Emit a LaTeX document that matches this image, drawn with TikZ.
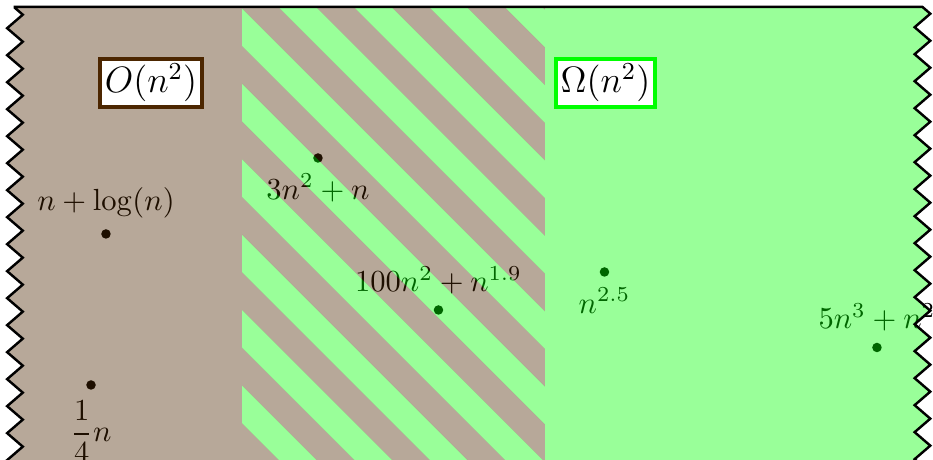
\documentclass[tikz,border=0pt]{standalone}
\usepackage{amsmath}
\usetikzlibrary{decorations.pathmorphing}
\definecolor{bigobrown}{rgb}{0.3,0.15,0}
\tikzset{
    dot/.style={circle, fill=black, inner sep=1.1pt},
    brownfill/.style={fill=bigobrown, fill opacity=0.4},
    greenfill/.style={fill=green, fill opacity=0.4},
    classbox/.style={draw=#1, fill=white, line width=1.2pt, inner sep=1.5pt, font=\large},
    torn/.style={decoration={zigzag, segment length=3.103mm, amplitude=0.9mm}},
}

\begin{document}
\begin{tikzpicture}
    \clip (0,0) rectangle (10.724,5.287);
    % functions
    \node[dot, label=above:$n+\log(n)$]      (nlog)    at (1.218,2.598) {};
    \node[dot, label=below:$\dfrac{1}{4}n$]  (quarter) at (1.046,0.862) {};
    \node[dot, label=below:$3n^2+n$]         (threen)  at (3.655,3.471) {};
    \node[dot, label=above:$100n^2+n^{1.9}$] (hundred) at (5.040,1.724) {};
    \node[dot, label=below:$n^{2.5}$]        (npow)    at (6.948,2.161) {};
    \node[dot, label=above:$5n^3+n^2$]       (cubic)   at (10.080,1.293) {};
    % classes
    \begin{scope}
        \path[clip, torn] (0.172,5.207) decorate {-- (0.172,-0.7)}
            -- (10.603,-0.7) decorate {-- (10.603,5.207)} -- cycle;
        \fill[brownfill] (0,-0.7) rectangle (2.782,5.207);
        \fill[greenfill] (6.264,-0.7) rectangle (10.8,5.207);
        \clip (2.782,-0.7) rectangle (6.264,5.207);
        \foreach \k in {-6,...,5} {
            \pgfmathsetmacro\band{7.540+0.8667*\k}
            \fill[greenfill] (\band+1,-1) -- (\band+1.4333,-1) -- (\band-5.5667,6) -- (\band-6,6) -- cycle;
            \fill[brownfill] (\band+1.4333,-1) -- (\band+1.8667,-1) -- (\band-5.1333,6) -- (\band-5.5667,6) -- cycle;
        }
    \end{scope}
    \draw[thick, torn] (0.172,-0.7) decorate {-- (0.172,5.207)}
        -- (10.603,5.207) decorate {-- (10.603,-0.7)};
    \node[classbox=bigobrown] (bigo)     at (1.736,4.333) {$O(n^2)$};
    \node[classbox=green]     (bigomega) at (6.960,4.333) {$\Omega(n^2)$};
\end{tikzpicture}
\end{document}
